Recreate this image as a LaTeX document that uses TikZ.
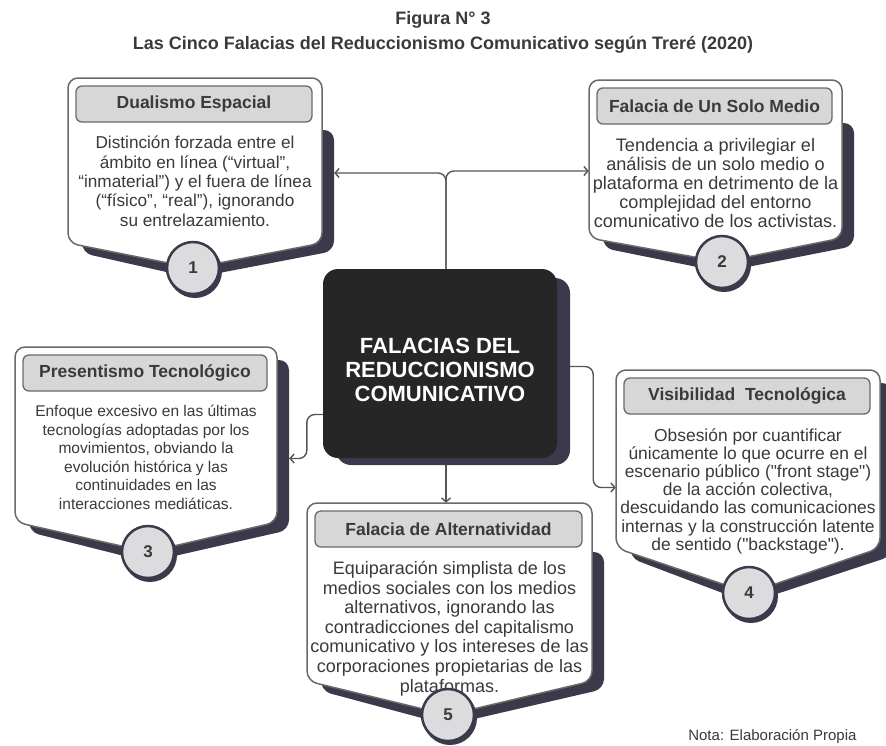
\documentclass[tikz,border=0pt]{standalone}
\usepackage{fontspec}
\setmainfont{Liberation Sans}
\usetikzlibrary{arrows.meta,calc,positioning,backgrounds}
\definecolor{ink}{HTML}{3A3A3A}
\definecolor{edgegray}{HTML}{6A6A6A}
\definecolor{slate}{HTML}{3A3A4A}
\definecolor{headgray}{HTML}{D7D7D7}
\definecolor{dotgray}{HTML}{DCDCDF}
\definecolor{hubdark}{HTML}{262626}
\definecolor{wiregray}{HTML}{555555}

\begin{document}
\begin{tikzpicture}[x=1pt,y=-1pt,
 wire/.style={draw=wiregray,line width=1.4pt,rounded corners=8pt,-{Straight Barb[length=4pt,width=9pt]}},
 headbox/.style={draw=edgegray,fill=headgray,line width=1.3pt,rounded corners=6pt,minimum height=36pt,inner sep=0pt,text=ink,font=\bfseries\fontsize{17.5}{20}\selectfont},
 bodytext/.style={align=center,inner sep=0pt,text=ink},
 dot/.style={circle,draw=slate,fill=dotgray,line width=2.5pt,minimum size=52pt,inner sep=0pt,text=ink,font=\bfseries\fontsize{17}{20}\selectfont},
 hub/.style={fill=hubdark,rounded corners=15pt,minimum width=234pt,minimum height=189pt,align=center,text=white,font=\bfseries\fontsize{22}{24}\selectfont}]
 \useasboundingbox (0,0) rectangle (886,745);
 \node[text=ink,font=\bfseries\fontsize{18}{20}\selectfont] (fig) at (443,20) {Figura N° 3};
 \node[text=ink,font=\bfseries\fontsize{18}{20}\selectfont] (ttl) at (443,45) {Las Cinco Falacias del Reduccionismo Comunicativo según Treré (2020)};
 \foreach \id/\xa/\ya/\xb/\yb/\cx/\cy/\sh/\fs/\ld/\hd/\tx in {
  1/68/78/322/243/193/268/52/17.2/19.3/{Dualismo Espacial}/{Distinción forzada entre el\\ámbito en línea (“virtual”,\\“inmaterial”) y el fuera de línea\\(“físico”, “real”), ignorando\\su entrelazamiento.},
  2/589/80/842/238/722/262/43/18.1/19/{Falacia de Un Solo Medio}/{Tendencia a privilegiar el\\análisis de un solo medio o\\plataforma en detrimento de la\\complejidad del entorno\\comunicativo de los activistas.},
  3/15/347/277/522/148/552/13/15.5/18.5/{Presentismo Tecnológico}/{Enfoque excesivo en las últimas\\tecnologías adoptadas por los\\movimientos, obviando la\\evolución histórica y las\\continuidades en las\\interacciones mediáticas.},
  4/616/370/880/548/749/593/13/17.4/18.2/{Visibilidad\ \ Tecnológica}/{Obsesión por cuantificar\\únicamente lo que ocurre en el\\escenario público (\textquotedbl front stage\textquotedbl)\\de la acción colectiva,\\descuidando las comunicaciones\\internas y la construcción latente\\de sentido (\textquotedbl backstage\textquotedbl).},
  5/307/503/592/681/448/715/49/18/19.6/{Falacia de Alternatividad}/{Equiparación simplista de los\\medios sociales con los medios\\alternativos, ignorando las\\contradicciones del capitalismo\\comunicativo y los intereses de las\\corporaciones propietarias de las\\plataformas.}}{
  \fill[slate,rounded corners=10pt] (\xa+14,\ya+\sh) -- (\xb+12,\ya+\sh) -- (\xb+12,\yb+8) -- (\cx,\cy+10) -- (\xa+14,\yb+10) -- cycle;
  \filldraw[fill=white,draw=edgegray,line width=1.5pt,rounded corners=10pt] (\xa,\ya) -- (\xb,\ya) -- (\xb,\yb) -- (\cx,\cy) -- (\xa,\yb) -- cycle;
  \node[minimum width={\xb-\xa+12},minimum height={\cy-\ya},inner sep=0pt] (b\id) at ({(\xa+\xb+12)/2},{(\ya+\cy)/2}) {};
  \node[headbox,minimum width={\xb-\xa-18}] (h\id) at ({(\xa+\xb)/2-1},\ya+26) {\hd};
  \node[bodytext,anchor=north,font=\fontsize{\fs}{\ld}\selectfont] (t\id) at ({(\xa+\xb)/2},\ya+58) {\tx};
  \fill[slate] (\cx+2,\cy+3) circle (27);
  \node[dot] (d\id) at (\cx,\cy) {\id};
 }
 \fill[slate,rounded corners=15pt] (336,278) rectangle (570,465);
 \node[hub] (hub) at (440,363.5) {\rule{0pt}{28pt}FALACIAS DEL\\REDUCCIONISMO\\COMUNICATIVO};
 \begin{scope}[on background layer]
 \draw[wire] ([xshift=6pt]hub.north) |- (b1.east);
 \draw[wire] ([xshift=6pt]hub.north) |- (b2.west);
 \draw[wire] ([xshift=6pt]hub.south) -- ([xshift=6pt]hub.south |- b5.north);
 \draw[wire] ([yshift=-51pt]hub.west) -- ++(-16,0) |- ([yshift=-9pt]b3.east);
 \draw[wire] ([yshift=-3pt]hub.east) -- ++(36,0) |- ([yshift=-6pt]b4.west);
 \end{scope}
 \node[anchor=east,text=ink,font=\fontsize{15}{17}\selectfont] (nota) at (860,737) {Nota: Elaboración Propia};
\end{tikzpicture}
\end{document}
